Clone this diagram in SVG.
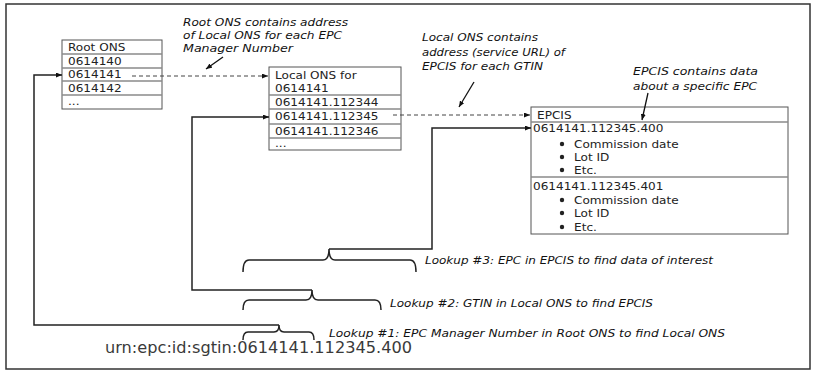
<svg xmlns="http://www.w3.org/2000/svg" width="816" height="371" viewBox="0 0 816 371">
<style>
.frame{fill:#fff;stroke:#333;stroke-width:1.5}
.box{fill:#fff;stroke:#555;stroke-width:1}
.div{stroke:#8a8a8a;stroke-width:1.4;fill:none}
.cell{font-family:"DejaVu Sans","Liberation Sans",sans-serif;font-size:10.5px;fill:#222}
.note{font-family:"DejaVu Sans","Liberation Sans",sans-serif;font-size:10.5px;font-style:italic;fill:#111}
.urn{font-family:"DejaVu Sans","Liberation Sans",sans-serif;font-size:16px;fill:#3a3a3a}
.wire{fill:none;stroke:#222;stroke-width:1.5}
.dash{fill:none;stroke:#444;stroke-width:1;stroke-dasharray:4 3}
.ptr{fill:none;stroke:#111;stroke-width:1.3}
.brace{fill:none;stroke:#222;stroke-width:1.5}
.dot{fill:#222}
</style>
<defs>
<marker id="ah" viewBox="0 0 6 5" refX="6" refY="2.5" markerWidth="6" markerHeight="5" markerUnits="userSpaceOnUse" orient="auto">
<path d="M0,0 L6,2.5 L0,5 z" fill="#111"/>
</marker>
</defs>
<rect class="frame" x="6" y="4" width="804" height="365"/>

<g id="root-ons">
<rect class="box" x="62" y="40" width="100" height="69"/>
<path class="div" d="M62,54 H162 M62,68 H162 M62,81 H162 M62,95 H162"/>
<g transform="translate(68,0) scale(1.15,1)">
<text class="cell" x="0" y="51">Root ONS</text>
<text class="cell" x="0" y="65">0614140</text>
<text class="cell" x="0" y="78.5">0614141</text>
<text class="cell" x="0" y="92">0614142</text>
<text class="cell" x="0" y="105.5">...</text>
</g>
</g>

<g id="local-ons">
<rect class="box" x="269" y="67" width="132" height="83"/>
<path class="div" d="M269,95 H401 M269,109 H401 M269,124 H401 M269,138 H401"/>
<g transform="translate(275,0) scale(1.15,1)">
<text class="cell" x="0" y="79">Local ONS for</text>
<text class="cell" x="0" y="92">0614141</text>
<text class="cell" x="0" y="106">0614141.112344</text>
<text class="cell" x="0" y="120.5">0614141.112345</text>
<text class="cell" x="0" y="135">0614141.112346</text>
<text class="cell" x="0" y="147.5">...</text>
</g>
</g>

<g id="epcis">
<rect class="box" x="531" y="107" width="257" height="127"/>
<path class="div" d="M531,122 H788" stroke-width="2"/>
<path class="div" d="M531,177 H788"/>
<circle class="dot" cx="562" cy="144" r="2.2"/>
<circle class="dot" cx="562" cy="157" r="2.2"/>
<circle class="dot" cx="562" cy="170" r="2.2"/>
<circle class="dot" cx="562" cy="200" r="2.2"/>
<circle class="dot" cx="562" cy="213" r="2.2"/>
<circle class="dot" cx="562" cy="227" r="2.2"/>
<g transform="translate(533,0) scale(1.15,1)">
<text class="cell" x="3.5" y="119">EPCIS</text>
<text class="cell" x="0" y="132">0614141.112345.400</text>
<text class="cell" x="35.7" y="148">Commission date</text>
<text class="cell" x="35.7" y="161">Lot ID</text>
<text class="cell" x="35.7" y="174">Etc.</text>
<text class="cell" x="0" y="190">0614141.112345.401</text>
<text class="cell" x="35.7" y="204">Commission date</text>
<text class="cell" x="35.7" y="217">Lot ID</text>
<text class="cell" x="35.7" y="231">Etc.</text>
</g>
</g>

<g id="note-root">
<text class="note" x="183" y="26" textLength="165" lengthAdjust="spacingAndGlyphs">Root ONS contains address</text>
<text class="note" x="183" y="39" textLength="159" lengthAdjust="spacingAndGlyphs">of Local ONS for each EPC</text>
<text class="note" x="183" y="51.5" textLength="110" lengthAdjust="spacingAndGlyphs">Manager Number</text>
</g>

<g id="note-local">
<text class="note" x="422" y="41" textLength="116" lengthAdjust="spacingAndGlyphs">Local ONS contains</text>
<text class="note" x="422" y="55.5" textLength="143" lengthAdjust="spacingAndGlyphs">address (service URL) of</text>
<text class="note" x="422" y="70" textLength="121" lengthAdjust="spacingAndGlyphs">EPCIS for each GTIN</text>
</g>

<g id="note-epcis">
<text class="note" x="633" y="75" textLength="125" lengthAdjust="spacingAndGlyphs">EPCIS contains data</text>
<text class="note" x="633" y="90" textLength="124" lengthAdjust="spacingAndGlyphs">about a specific EPC</text>
</g>

<g id="lookup-3">
<path class="brace" d="M243,272 Q243,260 249,260 H323 Q329,260 329,249 Q329,260 335,260 H410 Q416,260 416,272"/>
<text class="note" x="425" y="264" textLength="288" lengthAdjust="spacingAndGlyphs">Lookup #3: EPC in EPCIS to find data of interest</text>
</g>

<g id="lookup-2">
<path class="brace" d="M243,310 Q243,300 249,300 H306 Q312,300 312,290 Q312,300 318,300 H375 Q381,300 381,310"/>
<text class="note" x="390" y="307" textLength="263" lengthAdjust="spacingAndGlyphs">Lookup #2: GTIN in Local ONS to find EPCIS</text>
</g>

<g id="lookup-1">
<path class="brace" d="M243,340 Q243,332 248,332 H274 Q279,332 279,325 Q279,332 284,332 H309 Q314,332 314,340"/>
<text class="note" x="329" y="337" textLength="396" lengthAdjust="spacingAndGlyphs">Lookup #1: EPC Manager Number in Root ONS to find Local ONS</text>
</g>

<g id="urn">
<text class="urn" x="105" y="353" textLength="307" lengthAdjust="spacingAndGlyphs">urn:epc:id:sgtin:0614141.112345.400</text>
</g>

<g id="connectors">
<path class="wire" d="M279,325 H34 V75 H62" marker-end="url(#ah)"/>
<path class="wire" d="M312,290 H192 V117 H269" marker-end="url(#ah)"/>
<path class="wire" d="M329,249 H432 V128 H531" marker-end="url(#ah)"/>
<path class="dash" d="M132,76 H268" marker-end="url(#ah)"/>
<path class="dash" d="M393,115 H530" marker-end="url(#ah)"/>
<path class="ptr" d="M223,57 L206,69" marker-end="url(#ah)"/>
<path class="ptr" d="M474,82 L459,107" marker-end="url(#ah)"/>
<path class="ptr" d="M648,93 L642,120" marker-end="url(#ah)"/>
</g>
</svg>
